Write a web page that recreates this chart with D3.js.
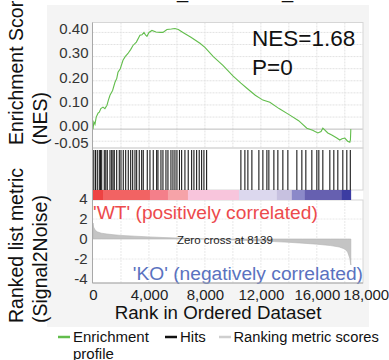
<!DOCTYPE html>
<html><head><meta charset="utf-8">
<script src="https://cdn.jsdelivr.net/npm/d3@7"></script>
<style>body{margin:0;background:#fff}svg{display:block;font-family:"Liberation Sans",Arial,sans-serif}</style>
</head><body>
<svg id="c" width="389" height="360"></svg>
<script>
// ---- data ----
const esRank  = [0,60,140,230,360,450,560,714,850,1000,1100,1214,1400,1571,1700,1786,1950,2143,2300,2500,2700,2857,3100,3357,3500,3643,3750,3857,4000,4214,4500,4800,5000,5286,5600,5857,6100,6429,7000,7643,8000,8600,9286,10000,10571,11000,11600,12143,12643,13300,14071,14700,15286,15700,16071,16300,16429,16786,17100,17429,17643,17800,18000,18200,18357,18400,18430];
const esValue = [0,0.03,0.02,0.05,0.066,0.07,0.085,0.091,0.085,0.099,0.12,0.14,0.16,0.194,0.21,0.235,0.25,0.285,0.30,0.313,0.33,0.346,0.36,0.388,0.39,0.40,0.39,0.384,0.40,0.408,0.402,0.40,0.40,0.412,0.414,0.416,0.412,0.40,0.38,0.355,0.338,0.30,0.264,0.22,0.19,0.169,0.14,0.12,0.111,0.085,0.058,0.035,0.004,-0.005,-0.016,-0.01,0.004,-0.016,-0.025,-0.037,-0.045,-0.04,-0.037,-0.05,-0.054,-0.045,0];
const hitRanks = [57,179,307,450,536,621,807,914,1021,1214,1336,1429,1521,1693,1879,2000,2164,2336,2521,2693,2836,3000,3121,3307,3479,3593,3879,4071,4307,4550,4643,4857,5000,5214,5357,5571,5714,5857,6000,6179,6336,6571,6807,7050,7214,7407,7593,7764,7929,8121,
  10571,10857,11071,11357,11857,12143,12429,12571,12929,13214,13571,13929,14571,14929,15214,15643,16000,16143,16429,16929,17214,17500,17857,18143,18393];
const metricRank  = [0,40,150,300,600,1000,1500,2000,3000,4000,5000,6000,7000,8139,9000,10000,11000,12000,13000,14000,15000,16000,17000,17600,18000,18200,18350,18430];
const metricValue = [1.6,1.2,0.9,0.72,0.58,0.5,0.42,0.36,0.28,0.21,0.15,0.1,0.05,0,-0.04,-0.09,-0.14,-0.2,-0.26,-0.33,-0.42,-0.52,-0.66,-0.8,-1.0,-1.3,-1.9,-2.6];
const colorBreaks = [0,714,4071,5357,6786,10429,13143,14214,15143,17786,18430];
const xTicks = [0,4000,8000,12000,16000,18000];
const esTicks = [0.40,0.30,0.20,0.10,0.00,-0.05];
const metricTicks = [4,2,0,-2,-4];
const zeroCross = 8139;
const nesText = ["NES=1.68","P=0"];
const legendItems = ["Enrichment","Hits","Ranking metric scores"];

// ---- style ----
const barPalette = ["#ee4242","#f26363","#f47f8a","#f6a3a8","#f8c5dc","#dcd8ee","#c7c1e0","#8b89c9","#6660b0","#3c3ca2"];
const green = "#62bd4c", red = "#ec4a4c", blue = "#5a72c0";

const svg = d3.select("#c");
const x = d3.scaleLinear().domain([0,19300]).range([93,363]);
const yEs = d3.scaleLinear().domain([-0.078,0.441]).range([148,22.5]);
const yM = d3.scaleLinear().domain([-4.4,3.9]).range([283,200]);
const L = 92.5, R = 363;

// outer grey panel
svg.append("rect").attr("x",47).attr("y",5).attr("width",322).attr("height",322).attr("fill","#f4f4f4");
// title remnants (cropped underscores)
svg.append("text").attr("x",177).attr("y",-2.5).attr("font-size",20).attr("fill","#111").text("_");
svg.append("text").attr("x",282).attr("y",-2.5).attr("font-size",20).attr("fill","#111").text("_");

// plot backgrounds
svg.append("rect").attr("x",L).attr("y",22.5).attr("width",R-L).attr("height",283-22.5).attr("fill","#fff");

const gridX = d3.range(2000,19000,2000);
// ES panel grid
const gEs = svg.append("g");
gEs.selectAll("line.v").data(gridX).join("line").attr("x1",d=>x(d)).attr("x2",d=>x(d)).attr("y1",22.5).attr("y2",148)
  .attr("stroke","#e2e2e2").attr("stroke-dasharray","2,1");
gEs.selectAll("line.h").data(d3.range(-0.05,0.44,0.05).map(v=>+v.toFixed(2)).filter(v=>v!==0)).join("line")
  .attr("x1",L).attr("x2",R).attr("y1",d=>yEs(d)).attr("y2",d=>yEs(d)).attr("stroke","#e2e2e2").attr("stroke-dasharray","2,1");
svg.append("line").attr("x1",L).attr("x2",R).attr("y1",yEs(0)).attr("y2",yEs(0)).attr("stroke","#bdbdbd");
// metric panel grid
const gM = svg.append("g");
gM.selectAll("line.v").data(gridX).join("line").attr("x1",d=>x(d)).attr("x2",d=>x(d)).attr("y1",200).attr("y2",283)
  .attr("stroke","#e8e8e8").attr("stroke-dasharray","2,1");
gM.selectAll("line.h").data([-2,2]).join("line").attr("x1",L).attr("x2",R).attr("y1",d=>yM(d)).attr("y2",d=>yM(d))
  .attr("stroke","#e8e8e8").attr("stroke-dasharray","2,1");

// borders
[[22.5,148],[148,190],[200,283]].forEach(([a,b])=>{
  svg.append("rect").attr("x",L).attr("y",a).attr("width",R-L).attr("height",b-a).attr("fill","none").attr("stroke","#d6d6d6");
});

// ES curve
svg.append("path").datum(esRank.map((r,i)=>[r,esValue[i]]))
  .attr("d",d3.line().x(d=>x(d[0])).y(d=>yEs(d[1])))
  .attr("fill","none").attr("stroke",green).attr("stroke-width",1.1);

// NES text
svg.append("text").attr("x",252).attr("y",46).attr("font-size",22.5).attr("fill","#111").text(nesText[0]);
svg.append("text").attr("x",252).attr("y",75).attr("font-size",22.5).attr("fill","#111").text(nesText[1]);

// hits
svg.append("g").selectAll("line").data(hitRanks).join("line")
  .attr("x1",d=>x(d)).attr("x2",d=>x(d)).attr("y1",150).attr("y2",190)
  .attr("stroke","#1a1a1a").attr("stroke-width",1.1);

// color bar
svg.append("g").selectAll("rect").data(d3.range(colorBreaks.length-1)).join("rect")
  .attr("x",i=>x(colorBreaks[i])).attr("width",i=>x(colorBreaks[i+1])-x(colorBreaks[i])+0.3)
  .attr("y",190).attr("height",10).attr("fill",i=>barPalette[i]);

// ranked metric area
svg.append("path").datum(metricRank.map((r,i)=>[r,metricValue[i]]))
  .attr("d",d3.area().x(d=>x(d[0])).y0(yM(0)).y1(d=>yM(d[1])))
  .attr("fill","#c4c4c4").attr("stroke","#b4b4b4").attr("stroke-width",0.6);

// labels in metric panel
svg.append("text").attr("x",x(zeroCross)+18).attr("y",yM(0)+4.5).attr("text-anchor","middle").attr("font-size",11.5).attr("fill","#222")
  .text("Zero cross at " + zeroCross);
svg.append("text").attr("x",93).attr("y",219).attr("font-size",19.2).attr("fill",red).text("'WT' (positively correlated)");
svg.append("text").attr("x",363).attr("y",280).attr("text-anchor","end").attr("font-size",19.2).attr("fill",blue).text("'KO' (negatively correlated)");

// left axis line
svg.append("line").attr("x1",L).attr("x2",L).attr("y1",22.5).attr("y2",283).attr("stroke","#a8a8a8");
svg.append("line").attr("x1",L).attr("x2",R).attr("y1",283).attr("y2",283).attr("stroke","#a8a8a8");

// y axes
const axEs = d3.axisLeft(yEs).tickValues(esTicks).tickFormat(d3.format(".2f")).tickSize(0).tickPadding(4);
const gA = svg.append("g").attr("transform",`translate(${L},0)`).call(axEs);
gA.select(".domain").remove();
gA.selectAll("text").attr("font-size",15).attr("fill","#333").attr("font-family","Liberation Sans, Arial, sans-serif")
  .attr("y",d=>d<0?1.5:-3.5)
  .text(d=>d3.format(".2f")(d).replace("−","-"));
const axM = d3.axisLeft(yM).tickValues(metricTicks).tickSize(0).tickPadding(5);
const gB = svg.append("g").attr("transform",`translate(${L},0)`).call(axM);
gB.select(".domain").remove();
gB.selectAll("text").attr("font-size",15).attr("fill","#333").attr("font-family","Liberation Sans, Arial, sans-serif")
  .text(d=>String(d));

// x axis
const axX = d3.axisBottom(x).tickValues(xTicks).tickSize(0).tickPadding(6).tickFormat(d3.format(","));
const gX = svg.append("g").attr("transform","translate(0,283)").call(axX);
gX.select(".domain").remove();
gX.selectAll("text").attr("font-size",15).attr("fill","#222").attr("font-family","Liberation Sans, Arial, sans-serif");
gX.selectAll("text").filter(d=>d===18000).attr("text-anchor","start").attr("dx",-2);

// axis titles
svg.append("text").attr("x",218).attr("y",319).attr("text-anchor","middle").attr("font-size",18.7).attr("fill","#111").text("Rank in Ordered Dataset");
function vt(xp,yp,t){svg.append("text").attr("transform",`translate(${xp},${yp}) rotate(-90)`).attr("font-size",19.5).attr("fill","#111").text(t);}
vt(23,145,"Enrichment Score");
vt(47,145,"(NES)");
vt(23,323,"Ranked list metric");
vt(47,323,"(Signal2Noise)");

// legend
const lg = svg.append("g").attr("font-size",15).attr("fill","#111");
lg.append("line").attr("x1",58).attr("x2",70).attr("y1",337).attr("y2",337).attr("stroke",green).attr("stroke-width",2.5);
lg.append("text").attr("x",73).attr("y",342).text(legendItems[0]);
lg.append("text").attr("x",73).attr("y",359).text("profile");
lg.append("line").attr("x1",165).attr("x2",177).attr("y1",337).attr("y2",337).attr("stroke","#111").attr("stroke-width",2.5);
lg.append("text").attr("x",180).attr("y",342).text(legendItems[1]);
lg.append("line").attr("x1",219).attr("x2",231).attr("y1",337).attr("y2",337).attr("stroke","#cfcfcf").attr("stroke-width",2.5);
lg.append("text").attr("x",233.5).attr("y",342).attr("font-size",14.7).text(legendItems[2]);
</script>
</body></html>
